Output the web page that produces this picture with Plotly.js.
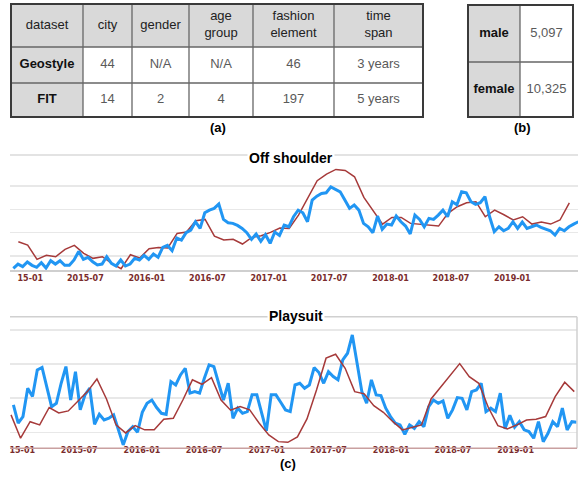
<!DOCTYPE html>
<html><head><meta charset="utf-8">
<script src="https://cdn.plot.ly/plotly-3.0.1.min.js"></script>
<style>html,body{margin:0;padding:0;background:#fff}#chart{width:579px;height:480px}</style>
</head><body><div id="chart"></div><script>
// ---------- table (a) ----------
const tableAHeader = ['dataset', 'city', 'gender', 'age<br>group', 'fashion<br>element', 'time<br>span'];
const tableADatasets = ['Geostyle', 'FIT'];
const tableAGeostyle = ['44', 'N/A', 'N/A', '46', '3 years'];
const tableAFIT = ['14', '2', '4', '197', '5 years'];
// ---------- table (b) ----------
const tableBGender = ['male', 'female'];
const tableBCount = ['5,097', '10,325'];

// ---------- chart (c) : Off shoulder ----------
const offBlue = [9.4,13.1,10.9,14.9,12.0,10.3,14.3,9.7,16.0,13.1,16.0,12.0,12.0,16.6,24.0,17.1,18.9,15.1,12.3,13.1,19.4,13.7,11.4,16.6,11.4,13.1,18.0,16.6,20.6,17.1,21.7,18.9,27.4,29.1,24.6,35.4,33.7,40.0,42.3,49.4,43.7,
 57.1,59.4,60.9,64.6,51.4,48.6,48.0,46.3,43.7,40.0,34.3,38.9,32.6,38.3,30.9,40.6,37.7,46.6,45.1,53.7,59.4,57.1,49.4,68.0,71.4,73.7,74.3,79.4,77.1,75.1,68.0,60.9,63.7,59.4,48.0,45.1,40.0,54.3,42.9,47.4,
 46.6,54.3,49.4,45.7,38.9,55.1,51.4,45.1,52.3,51.4,55.1,59.4,53.7,66.6,64.0,75.1,74.3,66.6,64.3,65.7,70.9,53.7,40.9,45.1,41.7,43.7,49.4,43.7,49.1,43.7,45.1,46.6,44.6,42.9,41.7,38.0,43.7,41.7,45.1,47.4,49.4];
const offRed = [32.3,29.4,17.1,20.6,19.4,25.7,29.1,22.3,18.0,19.4,13.7,9.1,21.1,18.3,26.3,27.4,26.9,39.4,40.6,50.3,
 51.4,37.1,33.7,34.3,30.3,36.0,37.4,40.3,44.0,43.7,55.1,70.3,84.6,90.3,94.3,93.4,88.0,70.3,58.9,47.4,
 53.1,53.1,48.0,47.4,46.6,45.7,56.6,62.3,65.7,66.6,53.7,59.4,55.4,50.9,53.7,47.4,49.1,47.4,50.9,65.7];
const offBlueStart = '2014-11-27', offRedStart = '2014-12-12';

// ---------- chart (c) : Playsuit ----------
const playBlue = [36.0,25.3,29.2,45.8,40.9,56.5,58.0,45.8,35.0,37.0,48.7,58.5,38.9,55.5,33.1,41.9,45.8,24.7,30.5,27.2,28.2,30.2,21.4,12.6,20.4,23.3,20.0,31.7,37.0,38.9,34.5,31.1,30.5,49.7,47.7,53.6,57.5,42.9,43.8,42.9,
 51.6,59.5,58.5,48.7,38.9,48.7,28.2,34.1,31.1,32.1,41.9,41.9,31.7,20.8,41.9,41.9,37.6,33.1,32.1,47.7,48.7,45.8,47.7,57.9,55.0,48.7,55.5,52.6,50.7,62.4,66.3,77.0,60.4,43.8,37.0,50.7,41.9,41.5,34.1,29.2,
 25.3,24.3,18.8,24.3,22.3,26.2,23.3,35.0,38.9,37.0,38.4,28.2,33.1,40.3,39.9,33.1,43.8,44.8,48.7,32.1,34.1,32.1,42.9,22.0,30.0,23.0,26.2,21.4,20.4,16.5,26.2,14.5,19.4,26.2,23.3,34.1,21.4,26.2,25.9];
const playRed = [30.2,16.5,26.2,24.3,34.5,31.3,32.5,38.4,43.8,51.2,39.5,24.3,19.6,23.9,21.4,21.4,27.6,28.2,38.9,50.7,
 48.1,52.0,38.9,32.9,35.0,33.1,25.3,18.4,14.5,14.1,17.3,27.8,44.8,63.4,65.7,57.5,43.8,42.5,35.6,31.7,
 26.2,21.4,22.7,24.3,39.5,46.2,53.2,60.2,52.6,48.7,34.5,23.9,22.0,24.3,27.2,27.6,29.2,40.9,49.3,43.8];
const playBlueStart = '2014-12-20', playRedStart = '2014-12-13';

const tickText = ['15-01','2015-07','2016-01','2016-07','2017-01','2017-07','2018-01','2018-07','2019-01'];
const offTickVals = ['2015-01-17','2015-07-01','2016-01-01','2016-07-01','2017-01-01','2017-07-01','2018-01-01','2018-07-01','2019-01-01'];
const playTickVals = ['2015-01-15','2015-07-01','2016-01-01','2016-07-01','2017-01-01','2017-07-01','2018-01-01','2018-07-01','2019-01-01'];

// ---------- helpers ----------
function seq(start, stepDays, n) {
  const t0 = Date.parse(start + 'T00:00:00Z');
  return Array.from({length: n}, (_, i) => new Date(t0 + i * stepDays * 86400000).toISOString().slice(0, 10));
}
const W = 579, H = 480;
const px = v => v / W, py = v => 1 - v / H;

// table geometry (pixel overlay axis)
const aX = [11, 83, 132, 189, 253, 334, 423];
const aY = [4, 47, 83, 117];
const bX = [468, 520, 573];
const bY = [5, 62, 117];
const mid = e => e.slice(0, -1).map((v, i) => (v + e[i + 1]) / 2);
const aXc = mid(aX), aYc = mid(aY), bXc = mid(bX), bYc = mid(bY);

const GRAY = '#d9d9d9';
const traces = [];
// cell fills
traces.push({type: 'heatmap', x: aX, y: aY, xaxis: 'x', yaxis: 'y',
  z: [tableAHeader.map(() => 1), [1].concat(tableAGeostyle.map(() => 0)), [1].concat(tableAFIT.map(() => 0))],
  zmin: 0, zmax: 1, colorscale: [[0, '#ffffff'], [1, GRAY]], showscale: false, hoverinfo: 'skip'});
traces.push({type: 'heatmap', x: bX, y: bY, xaxis: 'x', yaxis: 'y',
  z: tableBGender.map(() => [1, 0]),
  zmin: 0, zmax: 1, colorscale: [[0, '#ffffff'], [1, GRAY]], showscale: false, hoverinfo: 'skip'});
const FONT = 'Liberation Sans, Arial, sans-serif';
const txt = (x, y, t, color, weight) => ({type: 'scatter', mode: 'text', x, y, text: t, xaxis: 'x', yaxis: 'y',
  textposition: 'middle center', cliponaxis: false, hoverinfo: 'skip',
  textfont: {family: FONT, size: 13, color, weight}});
traces.push(txt(aXc, aXc.map(() => aYc[0]), tableAHeader, '#222', 'normal'));
traces.push(txt([aXc[0], aXc[0]], [aYc[1], aYc[2]], tableADatasets, '#111', 'bold'));
traces.push(txt(aXc.slice(1), aXc.slice(1).map(() => aYc[1]), tableAGeostyle, '#5a5a5a', 'normal'));
traces.push(txt(aXc.slice(1), aXc.slice(1).map(() => aYc[2]), tableAFIT, '#5a5a5a', 'normal'));
traces.push(txt([bXc[0], bXc[0]], bYc, tableBGender, '#111', 'bold'));
traces.push(txt([bXc[1], bXc[1]], bYc, tableBCount, '#5a5a5a', 'normal'));

// line charts
const BLUE = '#2196f3', RED = '#a63a3a';
traces.push({type: 'scatter', mode: 'lines', x: seq(offRedStart, 28, offRed.length), y: offRed, xaxis: 'x3', yaxis: 'y3',
  line: {color: RED, width: 1.5}, hoverinfo: 'skip'});
traces.push({type: 'scatter', mode: 'lines', x: seq(offBlueStart, 14, offBlue.length), y: offBlue, xaxis: 'x3', yaxis: 'y3',
  line: {color: BLUE, width: 3}, hoverinfo: 'skip'});
traces.push({type: 'scatter', mode: 'lines', x: seq(playBlueStart, 14, playBlue.length), y: playBlue, xaxis: 'x4', yaxis: 'y4',
  line: {color: BLUE, width: 3}, hoverinfo: 'skip'});
traces.push({type: 'scatter', mode: 'lines', x: seq(playRedStart, 28, playRed.length), y: playRed, xaxis: 'x4', yaxis: 'y4',
  line: {color: RED, width: 1.5}, hoverinfo: 'skip'});

// table border shapes
const shapes = [];
function tableLines(xe, ye) {
  for (let i = 1; i < xe.length - 1; i++) shapes.push({type: 'line', xref: 'x', yref: 'y', x0: xe[i], x1: xe[i], y0: ye[0], y1: ye[ye.length - 1], line: {color: '#666', width: 1.3}});
  for (let j = 1; j < ye.length - 1; j++) shapes.push({type: 'line', xref: 'x', yref: 'y', x0: xe[0], x1: xe[xe.length - 1], y0: ye[j], y1: ye[j], line: {color: '#666', width: 1.3}});
  shapes.push({type: 'rect', xref: 'x', yref: 'y', x0: xe[0], x1: xe[xe.length - 1], y0: ye[0], y1: ye[ye.length - 1], line: {color: '#3a3a3a', width: 2}});
}
tableLines(aX, aY);
tableLines(bX, bY);
// chart frames
shapes.push({type: 'line', xref: 'x3 domain', yref: 'y3 domain', x0: 0, x1: 1, y0: 1, y1: 1, line: {color: '#dadada', width: 1.5}});
shapes.push({type: 'line', xref: 'x4 domain', yref: 'y4 domain', x0: 0, x1: 1, y0: 1, y1: 1, line: {color: '#d0d0d0', width: 1.5}});
shapes.push({type: 'line', xref: 'x4 domain', yref: 'y4 domain', x0: 1, x1: 1, y0: 0, y1: 1, line: {color: '#d0d0d0', width: 1.5}});
shapes.push({type: 'line', xref: 'x4 domain', yref: 'y4 domain', x0: 0, x1: 1, y0: 0, y1: 0, line: {color: '#c9a0a0', width: 1.5}});

const tickFont = {family: 'DejaVu Sans, Verdana, sans-serif', size: 8, color: '#7a2c2c', weight: 'bold'};
const grid = {showgrid: true, gridcolor: '#e8e8e8', gridwidth: 1.5, tickvals: [20, 40, 60, 80], showticklabels: false, zeroline: false, ticks: '', fixedrange: true};

const ann = (x, y, t, size) => ({xref: 'paper', yref: 'paper', x: px(x), y: py(y), text: t, showarrow: false,
  xanchor: 'center', yanchor: 'middle', font: {family: FONT, size, color: '#000', weight: 'bold'}, bgcolor: '#fff', borderpad: 1});

const layout = {
  width: W, height: H, margin: {l: 0, r: 0, t: 0, b: 0}, showlegend: false,
  paper_bgcolor: '#fff', plot_bgcolor: '#fff',
  xaxis: {domain: [0, 1], range: [0, W], visible: false, fixedrange: true},
  yaxis: {domain: [0, 1], range: [H, 0], visible: false, fixedrange: true},
  xaxis3: {domain: [px(10), px(578)], anchor: 'y3', type: 'date', range: ['2014-11-17', '2019-07-17'],
    showgrid: false, zeroline: false, showline: true, linecolor: '#cfcfcf', linewidth: 1.5, ticks: '',
    tickmode: 'array', tickvals: offTickVals, ticktext: tickText, tickfont: tickFont, fixedrange: true},
  yaxis3: Object.assign({domain: [py(270), py(155)], anchor: 'x3', range: [8, 106.7]}, grid),
  xaxis4: {domain: [px(10), px(577)], anchor: 'free', position: py(444), type: 'date', range: ['2014-12-10', '2019-06-30'],
    showgrid: false, zeroline: false, showline: false, ticks: '',
    tickmode: 'array', tickvals: playTickVals, ticktext: tickText, tickfont: tickFont, fixedrange: true},
  yaxis4: Object.assign({domain: [py(448.3), py(316.7)], anchor: 'x4', range: [10.6, 87.7]}, grid),
  shapes,
  annotations: [
    ann(290.8, 158, 'Off shoulder', 14),
    ann(296, 316, 'Playsuit', 14),
    ann(218, 128, '(a)', 13),
    ann(522, 128, '(b)', 13),
    ann(288, 463, '(c)', 13)
  ]
};
Plotly.newPlot('chart', traces, layout, {staticPlot: true, displayModeBar: false});
</script></body></html>
